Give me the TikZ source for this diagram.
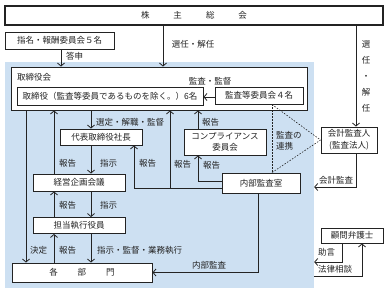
\documentclass[tikz,border=0pt]{standalone}
\usepackage{fontspec}
\setmainfont{Noto Sans CJK JP}
\usetikzlibrary{arrows.meta}
\definecolor{bluebg}{RGB}{205,224,242}
\definecolor{ink}{RGB}{35,35,35}
\begin{document}
\begin{tikzpicture}[x=1pt,y=-1pt,
  font=\fontsize{8.5pt}{10pt}\selectfont, text=ink,
  box/.style={draw=ink, line width=0.9pt, fill=white, inner sep=0pt, align=center},
  arr/.style={draw=ink, line width=0.8pt, -{Straight Barb[length=3pt,width=7pt]}},
  dotln/.style={draw=ink, line width=0.6pt, dash pattern=on 1.5pt off 1.5pt},
  lbl/.style={inner sep=0pt}
]
\useasboundingbox (0,0) rectangle (388,293);
% columns and rows
\coordinate (c26) at (26,0);
\coordinate (c54) at (54,0);
\coordinate (c61) at (61,0);
\coordinate (c91) at (91,0);
\coordinate (c134) at (134,0);
\coordinate (c163) at (163,0);
\coordinate (c170) at (170,0);
\coordinate (c198) at (198,0);
\coordinate (c258) at (258,0);
\coordinate (c272) at (272,0);
\coordinate (c342) at (342,0);
\coordinate (c356) at (356,0);
\coordinate (c362) at (362,0);
\coordinate (r97) at (0,97);
\coordinate (r181) at (0,181);
\coordinate (r187) at (0,187);
\coordinate (r188) at (0,188);
\coordinate (r262) at (0,262);
\coordinate (r276) at (0,276);

\node[fill=bluebg, inner sep=0pt, minimum width=309pt, minimum height=226pt] (company) at (159.5,175) {};

\node[box, line width=1.1pt, minimum width=378pt, minimum height=19pt] (gm) at (194,15.5) {株\hspace{24pt}主\hspace{24pt}総\hspace{24pt}会};
\node[box, minimum width=109pt, minimum height=17pt] (nom) at (59.5,40.5) {指名・報酬委員会５名};
\node[box, minimum width=296pt, minimum height=43pt] (board) at (159,88.5) {};
\node[lbl, anchor=west] (boardlbl) at (17,77) {取締役会};
\node[box, minimum width=186pt, minimum height=18pt] (dir) at (110,96) {取締役（監査等委員であるものを除く。）6名};
\node[box, minimum width=88pt, minimum height=17pt] (ac) at (259,95.5) {監査等委員会４名};
\node[box, minimum width=82pt, minimum height=16pt] (ceo) at (101,137) {代表取締役社長};
\node[box, minimum width=82pt, minimum height=26pt, font=\fontsize{8.5pt}{11pt}\selectfont] (comp) at (225,142) {コンプライアンス\\委員会};
\node[box, minimum width=92pt, minimum height=17pt] (plan) at (79,182.5) {経営企画会議};
\node[box, minimum width=92pt, minimum height=16pt] (exec) at (79,225.5) {担当執行役員};
\node[box, minimum width=140pt, minimum height=19pt] (dept) at (82,272.5) {各\hspace{20pt}部\hspace{20pt}門};
\node[box, minimum width=78pt, minimum height=20pt] (audit) at (261,183) {内部監査室};
\node[box, minimum width=56pt, minimum height=26pt, font=\fontsize{8.5pt}{11.5pt}\selectfont] (ca) at (349,140) {会計監査人\\(監査法人)};
\node[box, minimum width=62pt, minimum height=15pt] (lawyer) at (352,235.5) {顧問弁護士};

% connectors
\draw[arr] (gm.south -| c163) -- (board.north -| c163);
\node[lbl] (l1) at (193,44) {選任・解任};
\draw[arr] (nom.south -| c61) -- (board.north -| c61);
\node[lbl, anchor=west] (l2) at (66,56) {答申};
\draw[arr] (gm.south -| c356) -- (ca.north -| c356);
\node[lbl, align=center, font=\fontsize{8.5pt}{16pt}\selectfont] (l3) at (366,76) {選\\任\\・\\解\\任};
\draw[arr] (ac.west |- r97) -- (dir.east |- r97);
\node[lbl] (l4) at (210,81) {監査・監督};

\draw[arr] (board.south -| c91) -- (ceo.north -| c91);
\node[lbl, anchor=west] (l5) at (96,122) {選定・解職・監督};
\draw[arr] (plan.north -| c54) -- (board.south -| c54);
\node[lbl, anchor=west] (l6) at (59,163) {報告};
\draw[arr] (ceo.south -| c91) -- (plan.north -| c91);
\node[lbl, anchor=west] (l7) at (100,163) {指示};
\draw[arr] (audit.west |- r188) -| (ceo.south -| c134);
\node[lbl, anchor=west] (l8) at (139,163) {報告};
\draw[arr] (c170 |- r188) -- (board.south -| c170);
\node[lbl, anchor=west] (l9) at (174,164) {報告};
\draw[arr] (audit.west |- r181) -| (comp.south -| c198);
\node[lbl, anchor=west] (l10) at (203,165) {報告};
\draw[arr] (comp.north -| c198) -- (board.south -| c198);
\node[lbl, anchor=west] (l11) at (202,122) {報告};

\draw[dotln] (ac.south -| c272) -- (audit.north -| c272);
\draw[dotln] (ac.south -| c272) -- (ca.west) -- (audit.north -| c272);
\node[lbl, anchor=west, align=left, font=\fontsize{8.5pt}{11pt}\selectfont] (l12) at (276,141) {監査の\\連携};

\draw[arr] (ca.south -| c356) |- (company.east |- r187);
\node[lbl] (l13) at (336,180) {会計監査};

\draw[arr] (plan.south -| c91) -- (exec.north -| c91);
\node[lbl, anchor=west] (l14) at (100,205) {指示};
\draw[arr] (exec.north -| c54) -- (plan.south -| c54);
\node[lbl, anchor=west] (l15) at (59,205) {報告};
\draw[arr] (exec.south -| c91) -- (dept.north -| c91);
\node[lbl, anchor=west] (l16) at (97,250) {指示・監督・業務執行};
\draw[arr] (dept.north -| c54) -- (exec.south -| c54);
\node[lbl, anchor=west] (l17) at (59,250) {報告};
\draw[arr] (board.south -| c26) -- (dept.north -| c26);
\node[lbl] (l18) at (38.5,250) {決定};

\draw[arr] (audit.south -| c258) |- (dept.east);
\node[lbl, anchor=west] (l19) at (192,265) {内部監査};

\draw[arr] (lawyer.south -| c342) |- (company.east |- r262);
\node[lbl, anchor=west] (l20) at (318,252) {助言};
\draw[arr] (company.east |- r276) -| (lawyer.south -| c362);
\node[lbl, anchor=west] (l21) at (318,269) {法律相談};
\end{tikzpicture}
\end{document}
